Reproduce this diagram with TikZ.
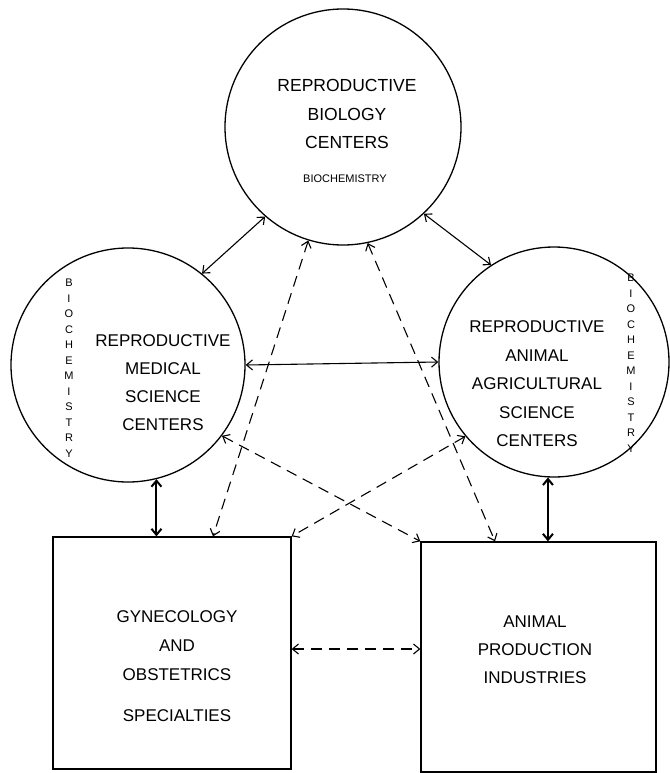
\documentclass[tikz,border=0pt]{standalone}
\usepackage{fontspec}
\setmainfont{Liberation Sans}
\usetikzlibrary{arrows.meta}
\tikzset{
  ring/.style={circle,draw,line width=1.3pt,inner sep=0pt},
  panel/.style={rectangle,draw,line width=1.3pt,inner sep=0pt},
  lbl/.style={align=center,font=\fontsize{17.5}{28.5}\selectfont,inner sep=0pt},
  vlbl/.style={align=center,font=\fontsize{11}{15.5}\selectfont,inner sep=0pt},
  link/.style={line width=1.1pt,{Straight Barb[length=6pt,width=10pt]}-{Straight Barb[length=6pt,width=10pt]}},
  thicklink/.style={link,line width=2pt},
  dlink/.style={link,dash pattern=on 11pt off 7pt}
}
\begin{document}
\begin{tikzpicture}[x=1pt,y=-1pt]
\useasboundingbox (0,0) rectangle (669,773);
% circles
\node[ring,minimum size=236pt] (T) at (343,127) {};
\node[ring,minimum size=234pt] (L) at (128,365) {};
\node[ring,minimum size=230pt] (R) at (554,362) {};
% boxes
\node[panel,minimum width=238pt,minimum height=232pt] (G) at (172,653) {};
\node[panel,minimum width=235pt,minimum height=230pt] (A) at (538.5,657) {};
% texts
\node[lbl] (Tt) at (347,114) {REPRODUCTIVE\\BIOLOGY\\CENTERS};
\node[inner sep=0pt,font=\fontsize{11}{13}\selectfont] (Tb) at (345,179) {BIOCHEMISTRY};
\node[lbl,font=\fontsize{17}{28}\selectfont] (Lt) at (163,383) {REPRODUCTIVE\\MEDICAL\\SCIENCE\\CENTERS};
\node[lbl,font=\fontsize{17}{28.5}\selectfont] (Rt) at (537,384) {REPRODUCTIVE\\ANIMAL\\AGRICULTURAL\\SCIENCE\\CENTERS};
\node[vlbl] (Lb) at (69,368) {B\\I\\O\\C\\H\\E\\M\\I\\S\\T\\R\\Y};
\node[vlbl] (Rb) at (631,363) {B\\I\\O\\C\\H\\E\\M\\I\\S\\T\\R\\Y};
\node[lbl,font=\fontsize{17}{29}\selectfont] (Gt) at (177,666) {GYNECOLOGY\\AND\\OBSTETRICS\\[12pt]SPECIALTIES};
\node[lbl,font=\fontsize{17}{28}\selectfont] (At) at (535,650) {ANIMAL\\PRODUCTION\\INDUSTRIES};
% solid connectors
\draw[link] (T.229) -- (L.51);
\draw[link] (T.313) -- (R.123);
\draw[link] (L.east) -- (R.west);
\draw[thicklink] (L.284) -- (L.284 |- G.north);
\draw[thicklink] (R.267) -- (R.267 |- A.north);
% dashed connectors
\draw[dlink] (T.253) -- ([xshift=41pt]G.north);
\draw[dlink] (T.282) -- ([xshift=-43.5pt]A.north);
\draw[dlink] (L.323) -- (A.north west);
\draw[dlink] (R.220) -- (G.north east);
\draw[dlink] ([yshift=4pt]G.east) -- ([yshift=8pt]A.west);
\end{tikzpicture}
\end{document}
